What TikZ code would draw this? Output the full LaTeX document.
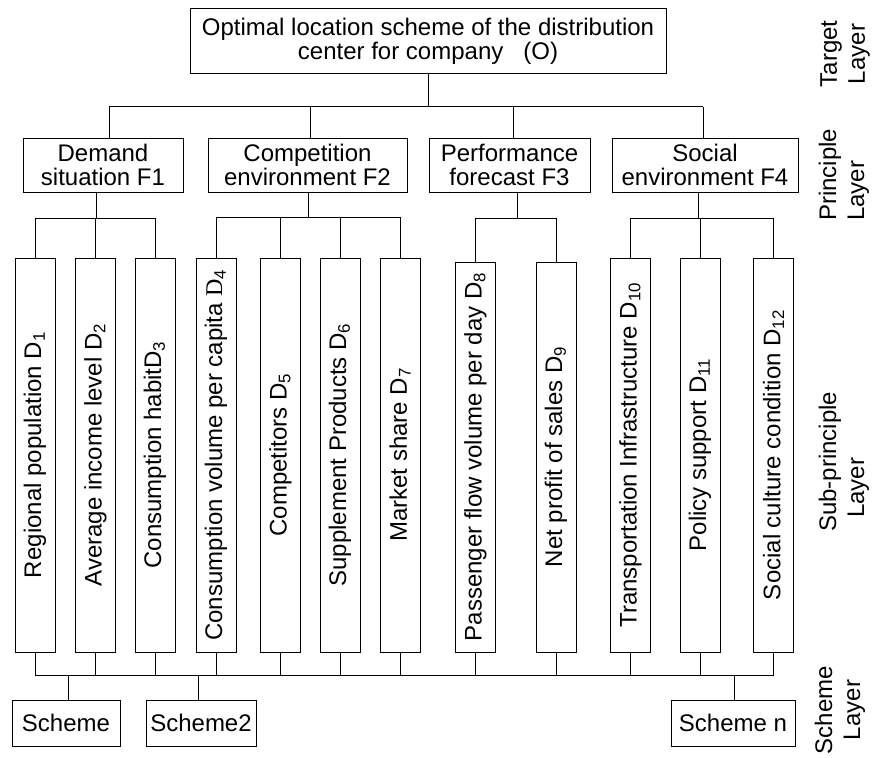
\documentclass[tikz,border=0pt]{standalone}
\usepackage{fontspec}
\setmainfont{Liberation Sans}
\newfontfamily\serifD{Liberation Serif}
\begin{document}
\begin{tikzpicture}[x=1pt,y=-1pt,
  box/.style={draw, line width=1pt, inner sep=0pt, align=center, font=\fontsize{24}{23.5}\selectfont},
  fbox/.style={box, minimum height=54pt},
  dbox/.style={box, minimum width=40pt, minimum height=394pt},
  dboxs/.style={box, minimum width=40pt, minimum height=390pt},
  sbox/.style={box, minimum height=46pt},
  conn/.style={line width=1pt},
  lab/.style={inner sep=0pt, rotate=90, font=\fontsize{24}{28}\selectfont}]
\useasboundingbox (0,0) rectangle (874,757);

% target
\node[box, minimum width=476pt, minimum height=65pt] (O) at (428,41.5)
  {Optimal location scheme of the distribution\\center for company\hspace{20pt}(O)};

% principle
\node[fbox, minimum width=160pt] (F1) at (103,165) {Demand\\situation F1};
\node[fbox, minimum width=199pt] (F2) at (307.5,165) {Competition\\environment F2};
\node[fbox, minimum width=161pt] (F3) at (509.5,165) {Performance\\forecast F3};
\node[fbox, minimum width=186pt] (F4) at (705,165) {Social\\environment F4};

% sub-principle
\node[dbox] (D1) at (35,455) {\rotatebox{90}{Regional population D\textsubscript{1}}};
\node[dbox] (D2) at (95.5,455) {\rotatebox{90}{Average income level D\textsubscript{2}}};
\node[dbox] (D3) at (155,455) {\rotatebox{90}{Consumption habitD\textsubscript{3}}};
\node[dbox] (D4) at (216,455) {\rotatebox{90}{Consumption volume per capita {\serifD D}\textsubscript{4}}};
\node[dbox] (D5) at (280.5,455) {\rotatebox{90}{Competitors D\textsubscript{5}}};
\node[dbox] (D6) at (340,455) {\rotatebox{90}{Supplement Products D\textsubscript{6}}};
\node[dbox] (D7) at (400,455) {\rotatebox{90}{Market share D\textsubscript{7}}};
\node[dboxs] (D8) at (475.5,457) {\rotatebox{90}{Passenger flow volume per day D\textsubscript{8}}};
\node[dboxs] (D9) at (556,457) {\rotatebox{90}{Net profit of sales D\textsubscript{9}}};
\node[dbox] (D10) at (630.5,455) {\rotatebox{90}{Transportation Infrastructure D\textsubscript{10}}};
\node[dbox] (D11) at (700,455) {\rotatebox{90}{Policy support D\textsubscript{11}}};
\node[dbox] (D12) at (773.5,455) {\rotatebox{90}{Social culture condition D\textsubscript{12}}};

% schemes
\node[sbox, minimum width=108pt] (S1) at (66,723) {Scheme};
\node[sbox, minimum width=110pt] (S2) at (201,723) {Scheme2};
\node[sbox, minimum width=124pt] (S3) at (733,723) {Scheme n};

% layer labels
\node[lab, align=center] (LT) at (845,54) {Target\\Layer};
\node[lab, align=left, anchor=west] (LP) at (844,221) {Principle\\Layer};
\node[lab, align=left, anchor=west] (LS) at (844,532) {Sub-principle\\\hspace*{14pt}Layer};
\node[lab, align=center] (LC) at (840,710) {Scheme\\Layer};

% connectors: target -> principle
\coordinate (tb1) at (109,107);
\coordinate (tb2) at (310,107);
\coordinate (tb3) at (513,107);
\coordinate (tb4) at (703,107);
\draw[conn] (O.south) -- (O.south |- tb1);
\draw[conn] (tb1) -- (tb4);
\foreach \i in {1,...,4} {\draw[conn] (tb\i) -- (tb\i |- F\i.north);}

% principle -> sub-principle
\coordinate (sb1) at (96,218);
\coordinate (sb2) at (308,217);
\coordinate (sb3) at (517,218);
\coordinate (sb4) at (698,218);
\foreach \i in {1,...,4} {\draw[conn] (F\i.south -| sb\i) -- (sb\i);}
\draw[conn] (D1.north |- sb1) -- (D3.north |- sb1);
\draw[conn] (D4.north |- sb2) -- (D7.north |- sb2);
\draw[conn] (D8.north |- sb3) -- (D9.north |- sb3);
\draw[conn] (D10.north |- sb4) -- (D12.north |- sb4);
\foreach \i in {1,2,3} {\draw[conn] (D\i.north |- sb1) -- (D\i.north);}
\foreach \i in {4,...,7} {\draw[conn] (D\i.north |- sb2) -- (D\i.north);}
\foreach \i in {8,9} {\draw[conn] (D\i.north |- sb3) -- (D\i.north);}
\foreach \i in {10,11,12} {\draw[conn] (D\i.north |- sb4) -- (D\i.north);}

% sub-principle -> schemes
\coordinate (bb) at (0,675);
\draw[conn] (D1.south |- bb) -- (D12.south |- bb);
\foreach \i in {1,...,12} {\draw[conn] (D\i.south) -- (D\i.south |- bb);}
\coordinate (s1) at (68,675);
\coordinate (s2) at (198,675);
\coordinate (s3) at (734,675);
\foreach \i in {1,2,3} {\draw[conn] (s\i) -- (s\i |- S\i.north);}
\end{tikzpicture}
\end{document}
